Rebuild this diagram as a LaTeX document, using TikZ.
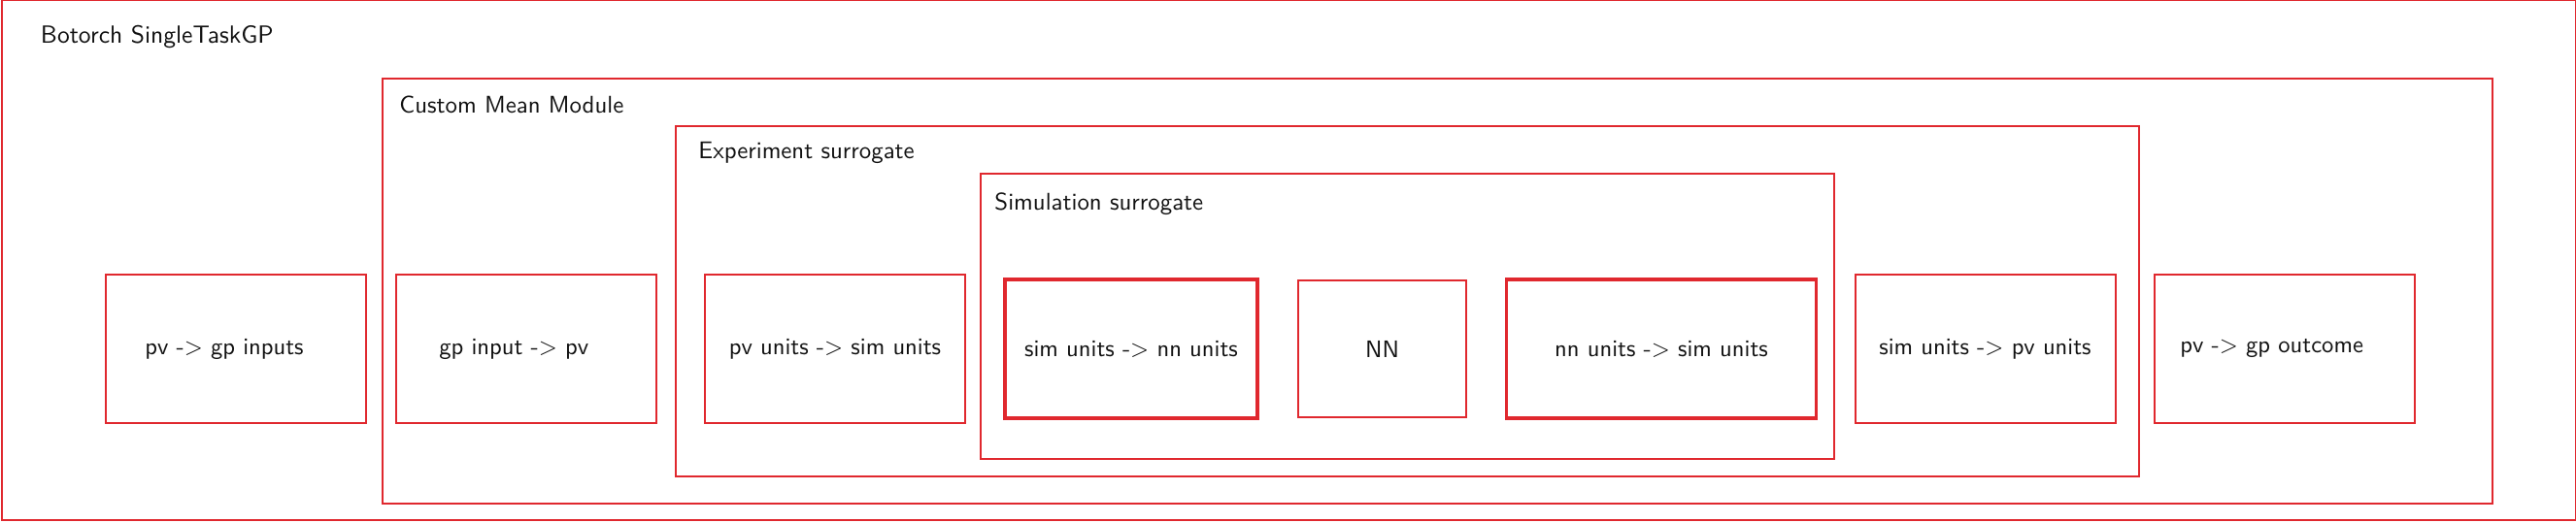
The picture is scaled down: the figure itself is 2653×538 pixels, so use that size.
\documentclass[tikz,border=0pt]{standalone}
\usepackage{fontspec}
\usepackage{tikz}
\usepackage{xcolor}
\usetikzlibrary{positioning}
\definecolor{boxred}{HTML}{E0282E}
\definecolor{darktext}{HTML}{111111}

\begin{document}
\begin{tikzpicture}[x=0.015cm, y=0.015cm, font=\sffamily\fontsize{10.5pt}{13pt}\selectfont, text=darktext,
            frame/.style={draw=boxred, line width=0.85pt, anchor=south west, inner sep=0pt},
            box/.style={draw=boxred, line width=0.85pt, minimum width=4.02cm, minimum height=2.295cm, inner sep=0pt},
            thickbox/.style={box, line width=1.5pt, minimum height=2.145cm},
            title/.style={anchor=base west, inner sep=0pt, font=\sffamily\fontsize{10.6pt}{13pt}\selectfont}]
            \useasboundingbox (0,0) rectangle (2653,538);
            % nested frames
            \node[frame, minimum width=39.76cm, minimum height=8.04cm] (gp) at (1,1) {};
            \node[frame, minimum width=32.6cm, minimum height=6.57cm] (mean) at (393,18) {};
            \node[frame, minimum width=22.6cm, minimum height=5.42cm] (exp) at (695,46) {};
            \node[frame, minimum width=13.18cm, minimum height=4.41cm] (sim) at (1009,64) {};
            \node[title, font=\sffamily\fontsize{10.9pt}{13pt}\selectfont] (gplbl) at (41.5,493.4) {Botorch SingleTaskGP};
            \node[title] (meanlbl) at (411,421.3) {Custom Mean Module};
            \node[title] (explbl) at (719,374.7) {Experiment surrogate};
            \node[title] (simlbl) at (1024,321.3) {Simulation surrogate};
            % transforms
            \node[box] (pvin) at (243,178.5) {pv -> gp inputs\kern0.36cm};
            \node[box] (gpin) at (542,178.5) {gp input -> pv\kern0.38cm};
            \node[box] (pvsim) at (860,178.5) {pv units -> sim units};
            \node[thickbox, minimum width=3.9cm] (simnn) at (1165,178.5) {sim units -> nn units};
            \node[box, minimum width=2.595cm, minimum height=2.115cm] (nn) at (1423.5,178.5) {NN};
            \node[thickbox, minimum width=4.78cm] (nnsim) at (1711,178.5) {nn units -> sim units};
            \node[box] (simpv) at (2044.5,178.5) {sim units -> pv units};
            \node[box] (pvout) at (2353,178.5) {pv -> gp outcome\kern0.4cm};
        \end{tikzpicture}
\end{document}
